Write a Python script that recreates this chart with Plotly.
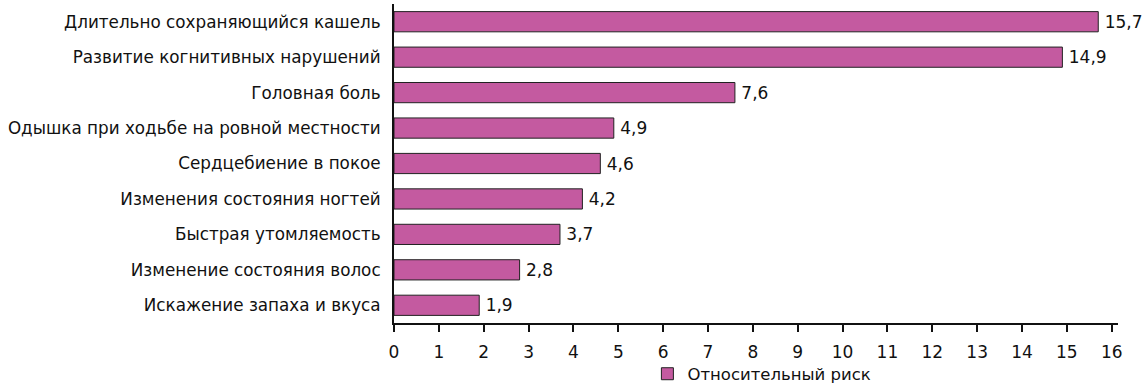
import plotly.graph_objects as go

categories = [
    "Длительно сохраняющийся кашель",
    "Развитие когнитивных нарушений",
    "Головная боль",
    "Одышка при ходьбе на ровной местности",
    "Сердцебиение в покое",
    "Изменения состояния ногтей",
    "Быстрая утомляемость",
    "Изменение состояния волос",
    "Искажение запаха и вкуса",
]
values = [15.7, 14.9, 7.6, 4.9, 4.6, 4.2, 3.7, 2.8, 1.9]
series_name = "Относительный риск"
tick_vals = list(range(0, 17))

FONT = "DejaVu Sans, Liberation Sans, Arial, sans-serif"

fig = go.Figure()
fig.add_trace(go.Bar(
    y=categories,
    x=values,
    orientation="h",
    name=series_name,
    marker=dict(color="#C45AA0", line=dict(color="#222222", width=1)),
    texttemplate="\u2009%{x:.1f}",
    textposition="outside",
    textfont=dict(size=17, color="#111111"),
    cliponaxis=False,
    showlegend=True,
))

fig.update_layout(
    width=1142, height=384,
    margin=dict(l=394, r=24, t=4, b=61, autoexpand=False),
    paper_bgcolor="white", plot_bgcolor="white",
    separators=", ",
    font=dict(family=FONT, size=17, color="#111111"),
    bargap=0.43,
    showlegend=True,
    legend=dict(orientation="h", x=0.35, xanchor="left", yref="paper",
                y=-0.105, yanchor="top", font=dict(size=16.5), itemwidth=30,
                tracegroupgap=0, bgcolor="rgba(0,0,0,0)"),
    xaxis=dict(range=[0, 16.14], tickvals=tick_vals, ticks="outside", ticklen=7,
               tickwidth=1.5, tickcolor="#111111", showline=True, linecolor="#111111",
               linewidth=2, showgrid=False, zeroline=False, tickfont=dict(size=17),
               ticklabelstandoff=6, automargin=False),
    yaxis=dict(categoryorder="array", categoryarray=categories[::-1],
               showline=True, linecolor="#111111", linewidth=2, ticks="",
               showgrid=False, zeroline=False, ticklabelstandoff=8,
               tickfont=dict(size=16.8), automargin=False),
)

fig.write_html("out.html")
